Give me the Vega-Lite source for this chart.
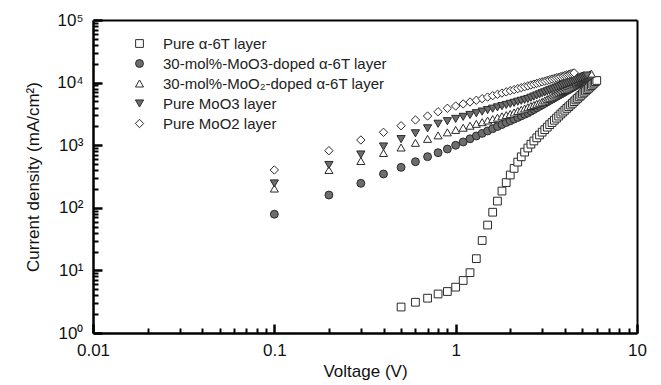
{
"$schema": "https://vega.github.io/schema/vega-lite/v6.json",
"width": 544, "height": 313,
"autosize": {"type": "none"},
"padding": {"left": 93, "top": 20, "right": 24, "bottom": 52},
"background": "white",
"config": {"font": "Liberation Sans", "view": {"stroke": null},
  "axis": {"zindex": 1, "grid": false, "tickColor": "#000", "domainColor": "#000"},
  "legend": {"orient": "none", "legendX": 39, "legendY": 16, "labelFontSize": 15, "labelLimit": 0, "labelColor": "#222", "symbolSize": 45, "rowPadding": 4, "labelOffset": 16, "padding": 0, "symbolStrokeWidth": 1, "symbolStrokeColor": "#2a2a2a"}},
"data": {"values": [
{"s":"A","V":0.5,"J":2.6},{"s":"A","V":0.6,"J":3.1},{"s":"A","V":0.7,"J":3.6},{"s":"A","V":0.8,"J":4.2},{"s":"A","V":0.9,"J":4.6},{"s":"A","V":1.0,"J":5.4},{"s":"A","V":1.1,"J":6.9},{"s":"A","V":1.2,"J":9.2},{"s":"A","V":1.3,"J":15.4},{"s":"A","V":1.4,"J":30},{"s":"A","V":1.5,"J":53},{"s":"A","V":1.6,"J":85},{"s":"A","V":1.7,"J":128},{"s":"A","V":1.8,"J":185},{"s":"A","V":1.9,"J":253},{"s":"A","V":2.0,"J":334},{"s":"A","V":2.1,"J":426},{"s":"A","V":2.2,"J":537},{"s":"A","V":2.3,"J":652},{"s":"A","V":2.4,"J":776},{"s":"A","V":2.5,"J":902},{"s":"A","V":2.6,"J":1038},{"s":"A","V":2.7,"J":1167},{"s":"A","V":2.8,"J":1312},{"s":"A","V":2.9,"J":1456},{"s":"A","V":3.0,"J":1614},{"s":"A","V":3.1,"J":1770},{"s":"A","V":3.2,"J":1941},{"s":"A","V":3.3,"J":2128},{"s":"A","V":3.4,"J":2301},{"s":"A","V":3.5,"J":2506},{"s":"A","V":3.6,"J":2704},{"s":"A","V":3.7,"J":2917},{"s":"A","V":3.8,"J":3148},{"s":"A","V":3.9,"J":3373},{"s":"A","V":4.0,"J":3614},{"s":"A","V":4.1,"J":3873},{"s":"A","V":4.2,"J":4121},{"s":"A","V":4.3,"J":4385},{"s":"A","V":4.4,"J":4667},{"s":"A","V":4.5,"J":4966},{"s":"A","V":4.6,"J":5284},{"s":"A","V":4.7,"J":5585},{"s":"A","V":4.8,"J":5916},{"s":"A","V":4.9,"J":6252},{"s":"A","V":5.0,"J":6607},{"s":"A","V":5.1,"J":6982},{"s":"A","V":5.2,"J":7345},{"s":"A","V":5.3,"J":7727},{"s":"A","V":5.4,"J":8110},{"s":"A","V":5.5,"J":8531},{"s":"A","V":5.6,"J":8974},{"s":"A","V":5.7,"J":9419},{"s":"A","V":5.8,"J":9840},{"s":"A","V":5.9,"J":10350},{"s":"A","V":6.0,"J":10810},
{"s":"B","V":0.1,"J":79},{"s":"B","V":0.2,"J":160},{"s":"B","V":0.3,"J":246},{"s":"B","V":0.4,"J":347},{"s":"B","V":0.5,"J":443},{"s":"B","V":0.6,"J":545},{"s":"B","V":0.7,"J":656},{"s":"B","V":0.8,"J":759},{"s":"B","V":0.9,"J":869},{"s":"B","V":1.0,"J":998},{"s":"B","V":1.1,"J":1127},{"s":"B","V":1.2,"J":1265},{"s":"B","V":1.3,"J":1404},{"s":"B","V":1.4,"J":1545},{"s":"B","V":1.5,"J":1690},{"s":"B","V":1.6,"J":1837},{"s":"B","V":1.7,"J":1986},{"s":"B","V":1.8,"J":2138},{"s":"B","V":1.9,"J":2301},{"s":"B","V":2.0,"J":2455},{"s":"B","V":2.1,"J":2612},{"s":"B","V":2.2,"J":2773},{"s":"B","V":2.3,"J":2944},{"s":"B","V":2.4,"J":3112},{"s":"B","V":2.5,"J":3281},{"s":"B","V":2.6,"J":3499},{"s":"B","V":2.7,"J":3715},{"s":"B","V":2.8,"J":3954},{"s":"B","V":2.9,"J":4188},{"s":"B","V":3.0,"J":4426},{"s":"B","V":3.1,"J":4667},{"s":"B","V":3.2,"J":4932},{"s":"B","V":3.3,"J":5200},{"s":"B","V":3.4,"J":5433},{"s":"B","V":3.5,"J":5715},{"s":"B","V":3.6,"J":5984},{"s":"B","V":3.7,"J":6266},{"s":"B","V":3.8,"J":6546},{"s":"B","V":3.9,"J":6823},{"s":"B","V":4.0,"J":7129},{"s":"B","V":4.1,"J":7430},{"s":"B","V":4.2,"J":7709},{"s":"B","V":4.3,"J":8017},{"s":"B","V":4.4,"J":8318},{"s":"B","V":4.5,"J":8650},{"s":"B","V":4.6,"J":8974},{"s":"B","V":4.7,"J":9290},{"s":"B","V":4.8,"J":9616},{"s":"B","V":4.9,"J":9954},{"s":"B","V":5.0,"J":10300},
{"s":"C","V":0.1,"J":203},{"s":"C","V":0.2,"J":402},{"s":"C","V":0.3,"J":560},{"s":"C","V":0.4,"J":750},{"s":"C","V":0.5,"J":918},{"s":"C","V":0.6,"J":1091},{"s":"C","V":0.7,"J":1262},{"s":"C","V":0.8,"J":1435},{"s":"C","V":0.9,"J":1603},{"s":"C","V":1.0,"J":1754},{"s":"C","V":1.1,"J":1901},{"s":"C","V":1.2,"J":2047},{"s":"C","V":1.3,"J":2193},{"s":"C","V":1.4,"J":2333},{"s":"C","V":1.5,"J":2477},{"s":"C","V":1.6,"J":2612},{"s":"C","V":1.7,"J":2754},{"s":"C","V":1.8,"J":2891},{"s":"C","V":1.9,"J":3027},{"s":"C","V":2.0,"J":3162},{"s":"C","V":2.1,"J":3334},{"s":"C","V":2.2,"J":3516},{"s":"C","V":2.3,"J":3690},{"s":"C","V":2.4,"J":3864},{"s":"C","V":2.5,"J":4046},{"s":"C","V":2.6,"J":4227},{"s":"C","V":2.7,"J":4395},{"s":"C","V":2.8,"J":4581},{"s":"C","V":2.9,"J":4753},{"s":"C","V":3.0,"J":4943},{"s":"C","V":3.1,"J":5188},{"s":"C","V":3.2,"J":5445},{"s":"C","V":3.3,"J":5702},{"s":"C","V":3.4,"J":5970},{"s":"C","V":3.5,"J":6237},{"s":"C","V":3.6,"J":6501},{"s":"C","V":3.7,"J":6776},{"s":"C","V":3.8,"J":7047},{"s":"C","V":3.9,"J":7328},{"s":"C","V":4.0,"J":7621},{"s":"C","V":4.1,"J":7962},{"s":"C","V":4.2,"J":8318},{"s":"C","V":4.3,"J":8670},{"s":"C","V":4.4,"J":9036},{"s":"C","V":4.5,"J":9419},{"s":"C","V":4.6,"J":9795},{"s":"C","V":4.7,"J":10190},{"s":"C","V":4.8,"J":10570},{"s":"C","V":4.9,"J":10960},{"s":"C","V":5.0,"J":11380},{"s":"C","V":5.1,"J":11800},{"s":"C","V":5.2,"J":12220},{"s":"C","V":5.3,"J":12650},{"s":"C","V":5.4,"J":13060},{"s":"C","V":5.5,"J":13490},{"s":"C","V":5.6,"J":13930},
{"s":"D","V":0.1,"J":245},{"s":"D","V":0.2,"J":483},{"s":"D","V":0.3,"J":710},{"s":"D","V":0.4,"J":953},{"s":"D","V":0.5,"J":1250},{"s":"D","V":0.6,"J":1549},{"s":"D","V":0.7,"J":1862},{"s":"D","V":0.8,"J":2198},{"s":"D","V":0.9,"J":2415},{"s":"D","V":1.0,"J":2630},{"s":"D","V":1.1,"J":2838},{"s":"D","V":1.2,"J":3041},{"s":"D","V":1.3,"J":3243},{"s":"D","V":1.4,"J":3443},{"s":"D","V":1.5,"J":3639},{"s":"D","V":1.6,"J":3828},{"s":"D","V":1.7,"J":4018},{"s":"D","V":1.8,"J":4207},{"s":"D","V":1.9,"J":4395},{"s":"D","V":2.0,"J":4571},{"s":"D","V":2.1,"J":4753},{"s":"D","V":2.2,"J":4943},{"s":"D","V":2.3,"J":5117},{"s":"D","V":2.4,"J":5297},{"s":"D","V":2.5,"J":5470},{"s":"D","V":2.6,"J":5728},{"s":"D","V":2.7,"J":5984},{"s":"D","V":2.8,"J":6237},{"s":"D","V":2.9,"J":6486},{"s":"D","V":3.0,"J":6745},{"s":"D","V":3.1,"J":6998},{"s":"D","V":3.2,"J":7261},{"s":"D","V":3.3,"J":7534},{"s":"D","V":3.4,"J":7798},{"s":"D","V":3.5,"J":8054},{"s":"D","V":3.6,"J":8318},{"s":"D","V":3.7,"J":8590},{"s":"D","V":3.8,"J":8851},{"s":"D","V":3.9,"J":9120},{"s":"D","V":4.0,"J":9397},{"s":"D","V":4.1,"J":9661},{"s":"D","V":4.2,"J":9931},{"s":"D","V":4.3,"J":10210},{"s":"D","V":4.4,"J":10500},{"s":"D","V":4.5,"J":10770},{"s":"D","V":4.6,"J":11040},{"s":"D","V":4.7,"J":11320},{"s":"D","V":4.8,"J":11590},{"s":"D","V":4.9,"J":11860},{"s":"D","V":5.0,"J":12130},{"s":"D","V":5.1,"J":12420},{"s":"D","V":5.2,"J":12710},{"s":"D","V":5.3,"J":12970},
{"s":"E","V":0.1,"J":402},{"s":"E","V":0.2,"J":817},{"s":"E","V":0.3,"J":1211},{"s":"E","V":0.4,"J":1607},{"s":"E","V":0.5,"J":2046},{"s":"E","V":0.6,"J":2530},{"s":"E","V":0.7,"J":2925},{"s":"E","V":0.8,"J":3425},{"s":"E","V":0.9,"J":3890},{"s":"E","V":1.0,"J":4230},{"s":"E","V":1.1,"J":4566},{"s":"E","V":1.2,"J":4898},{"s":"E","V":1.3,"J":5224},{"s":"E","V":1.4,"J":5546},{"s":"E","V":1.5,"J":5869},{"s":"E","V":1.6,"J":6180},{"s":"E","V":1.7,"J":6497},{"s":"E","V":1.8,"J":6804},{"s":"E","V":1.9,"J":7110},{"s":"E","V":2.0,"J":7413},{"s":"E","V":2.1,"J":7711},{"s":"E","V":2.2,"J":8004},{"s":"E","V":2.3,"J":8297},{"s":"E","V":2.4,"J":8586},{"s":"E","V":2.5,"J":8875},{"s":"E","V":2.6,"J":9159},{"s":"E","V":2.7,"J":9443},{"s":"E","V":2.8,"J":9723},{"s":"E","V":2.9,"J":10013},{"s":"E","V":3.0,"J":10286},{"s":"E","V":3.1,"J":10560},{"s":"E","V":3.2,"J":10836},{"s":"E","V":3.3,"J":11117},{"s":"E","V":3.4,"J":11395},{"s":"E","V":3.5,"J":11670},{"s":"E","V":3.6,"J":11940},{"s":"E","V":3.7,"J":12200},{"s":"E","V":3.8,"J":12470},{"s":"E","V":3.9,"J":12740},{"s":"E","V":4.0,"J":13000},{"s":"E","V":4.1,"J":13250},{"s":"E","V":4.2,"J":13520},{"s":"E","V":4.3,"J":13780},{"s":"E","V":4.4,"J":14030},{"s":"E","V":4.5,"J":14290}
]},
"layer": [
{"mark": {"type": "point", "filled": true, "stroke": "#2a2a2a", "strokeWidth": 1, "opacity": 1},
 "encoding": {
  "x": {"field": "V", "type": "quantitative", "scale": {"type": "log", "domain": [0.01, 10], "nice": false},
   "axis": {"orient": "bottom", "values": [0.01, 0.1, 1, 10], "labelExpr": "'' + datum.value", "ticks": false, "domainWidth": 2.5, "labelFontSize": 17, "labelColor": "#111", "labelPadding": 9, "labelFlush": false, "labelOverlap": false, "title": "Voltage (V)", "titleFontSize": 17, "titleFontWeight": "normal", "titleColor": "#111", "titlePadding": 5}},
  "y": {"field": "J", "type": "quantitative", "scale": {"type": "log", "domain": [1, 100000], "nice": false},
   "axis": {"orient": "left", "values": [1, 10, 100, 1000, 10000, 100000], "labelExpr": "'10' + ['⁰','¹','²','³','⁴','⁵'][round(log(datum.value)/LN10)]", "ticks": false, "domainWidth": 2.5, "labelFontSize": 17, "labelColor": "#111", "labelPadding": 10, "labelFlush": false, "labelOverlap": false, "title": "Current density (mA/cm²)", "titleFontSize": 17, "titleFontWeight": "normal", "titleColor": "#111", "titlePadding": 14}},
  "shape": {"field": "s", "type": "nominal", "scale": {"domain": ["A", "B", "C", "D", "E"], "range": ["square", "circle", "triangle-up", "triangle-down", "diamond"]},
   "legend": {"title": null, "labelExpr": "datum.label == 'A' ? 'Pure α-6T layer' : datum.label == 'B' ? '30-mol%-MoO3-doped α-6T layer' : datum.label == 'C' ? '30-mol%-MoO₂-doped α-6T layer' : datum.label == 'D' ? 'Pure MoO3 layer' : 'Pure MoO2 layer'"}},
  "color": {"field": "s", "type": "nominal", "scale": {"domain": ["A", "B", "C", "D", "E"], "range": ["#ffffff", "#6d6d6d", "#ffffff", "#6d6d6d", "#ffffff"]},
   "legend": {"title": null, "labelExpr": "datum.label == 'A' ? 'Pure α-6T layer' : datum.label == 'B' ? '30-mol%-MoO3-doped α-6T layer' : datum.label == 'C' ? '30-mol%-MoO₂-doped α-6T layer' : datum.label == 'D' ? 'Pure MoO3 layer' : 'Pure MoO2 layer'"}},
  "size": {"field": "s", "type": "nominal", "scale": {"domain": ["A", "B", "C", "D", "E"], "range": [60, 70, 80, 80, 110]}, "legend": null}
 }},
{"mark": {"type": "point", "opacity": 0},
 "encoding": {
  "x": {"field": "V", "type": "quantitative",
   "axis": {"orient": "top", "offset": -313, "values": [0.01, 0.1, 1, 10], "labels": false, "domain": false, "tickSize": 9, "tickWidth": 2.5, "title": null}},
  "y": {"field": "J", "type": "quantitative",
   "axis": {"orient": "right", "offset": -544, "values": [1, 10, 100, 1000, 10000, 100000], "labels": false, "domain": false, "tickSize": 9, "tickWidth": 2.5, "title": null}}
 }},
{"mark": {"type": "point", "opacity": 0},
 "encoding": {
  "x": {"field": "V", "type": "quantitative",
   "axis": {"orient": "top", "offset": -313, "values": [0.02,0.03,0.04,0.05,0.06,0.07,0.08,0.09,0.2,0.3,0.4,0.5,0.6,0.7,0.8,0.9,2,3,4,5,6,7,8,9], "labels": false, "domain": false, "tickSize": 5, "tickWidth": 2, "title": null}},
  "y": {"field": "J", "type": "quantitative",
   "axis": {"orient": "right", "offset": -544, "values": [2,3,4,5,6,7,8,9,20,30,40,50,60,70,80,90,200,300,400,500,600,700,800,900,2000,3000,4000,5000,6000,7000,8000,9000,20000,30000,40000,50000,60000,70000,80000,90000], "labels": false, "domain": false, "tickSize": 5, "tickWidth": 2, "title": null}}
 }},
{"mark": {"type": "point", "opacity": 0},
 "encoding": {
  "x": {"field": "V", "type": "quantitative",
   "axis": {"orient": "top", "values": [], "labels": false, "ticks": false, "domainWidth": 2, "title": null}},
  "y": {"field": "J", "type": "quantitative",
   "axis": {"orient": "right", "values": [], "labels": false, "ticks": false, "domainWidth": 2, "title": null}}
 }}
],
"resolve": {"axis": {"x": "independent", "y": "independent"}}
}
